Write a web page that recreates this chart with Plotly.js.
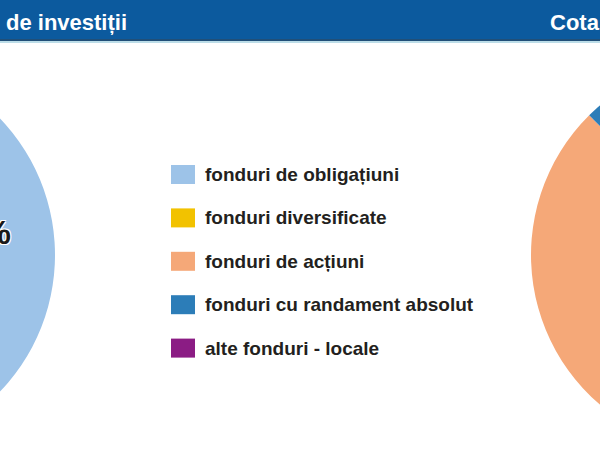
<!DOCTYPE html>
<html><head><meta charset="utf-8">
<script src="https://cdn.plot.ly/plotly-3.0.1.min.js"></script>
<style>
html,body{margin:0;padding:0;overflow:hidden;background:#fff;width:600px;height:450px;}
#chart{position:absolute;left:-400px;top:0;width:1400px;height:500px;}
</style>
</head><body><div id="chart"></div>
<script>
// ---- data ----
const categories = ["fonduri de obligațiuni", "fonduri diversificate", "fonduri de acțiuni", "fonduri cu randament absolut", "alte fonduri - locale"];
const colors = ["#9DC3E8", "#F2C200", "#F5A878", "#2C7DB8", "#8B1C84"];
const leftValues = [84, 6, 4, 4, 2];
const rightValues = [12, 10, 60, 14, 4];
const headerLeft = "de investiții";
const headerRight = "Cota";

// ---- geometry helpers (page pixels -> paper coords) ----
const OFFX = 400, W = 1400, H = 500;
const px = x => (x + OFFX) / W;
const py = y => 1 - y / H;
const R = 197;
function dom(cx, cy) { return { x: [px(cx - R), px(cx + R)], y: [py(cy + R), py(cy - R)] }; }

const sans = "'Liberation Sans', Arial, sans-serif";

const common = {
  type: "pie", labels: categories, sort: false, direction: "clockwise",
  marker: { colors: colors, line: { width: 0 } },
  textinfo: "none", hoverinfo: "none", showlegend: false
};

const traces = [
  Object.assign({}, common, { values: leftValues, domain: dom(-142, 255), rotation: 80 - 0.84 * 180 }),
  Object.assign({}, common, { values: rightValues, domain: dom(728, 255), rotation: 20 })
];

const shapes = [
  { type: "rect", xref: "paper", yref: "paper", x0: 0, x1: 1, y0: py(39), y1: py(0), fillcolor: "#0C5A9E", line: { width: 0 } },
  { type: "rect", xref: "paper", yref: "paper", x0: 0, x1: 1, y0: py(41), y1: py(39), fillcolor: "#214F78", line: { width: 0 } },
  { type: "rect", xref: "paper", yref: "paper", x0: 0, x1: 1, y0: py(43), y1: py(41), fillcolor: "#BCDDE8", line: { width: 0 } }
];

// share label of the largest slice of the left pie, from the data
const leftTotal = leftValues.reduce((a, b) => a + b, 0);
const leftShare = Math.round(100 * leftValues[0] / leftTotal) + "%";

const annotations = [
  { text: headerLeft, xref: "paper", yref: "paper", x: px(4), y: py(22), xanchor: "left", yanchor: "middle", showarrow: false,
    font: { family: sans, size: 22, weight: 700, color: "#fff" } },
  { text: headerRight, xref: "paper", yref: "paper", x: px(548), y: py(22), xanchor: "left", yanchor: "middle", showarrow: false,
    font: { family: sans, size: 22, weight: 700, color: "#fff" } },
  { text: leftShare, xref: "paper", yref: "paper", x: px(13), y: py(232), xanchor: "right", yanchor: "middle", showarrow: false,
    font: { family: sans, size: 34, weight: 700, color: "#1a1a1a",
      shadow: "-1px -1px 0 #fff, 1px -1px 0 #fff, -1px 1px 0 #fff, 1px 1px 0 #fff" } }
];

categories.forEach((c, i) => {
  const cy = 174.5 + i * 43.4;
  shapes.push({ type: "rect", xref: "paper", yref: "paper", x0: px(171), x1: px(195), y0: py(cy + 9.5), y1: py(cy - 9.5),
    fillcolor: colors[i], line: { width: 0 } });
  annotations.push({ text: c, xref: "paper", yref: "paper", x: px(203), y: py(cy), xanchor: "left", yanchor: "middle",
    showarrow: false, font: { family: sans, size: 19, weight: 700, color: "#231F20" } });
});

const layout = {
  width: W, height: H, margin: { l: 0, r: 0, t: 0, b: 0 },
  paper_bgcolor: "#fff", plot_bgcolor: "#fff", showlegend: false,
  shapes: shapes, annotations: annotations
};
Plotly.newPlot("chart", traces, layout, { staticPlot: true, displayModeBar: false });
</script>
</body></html>
